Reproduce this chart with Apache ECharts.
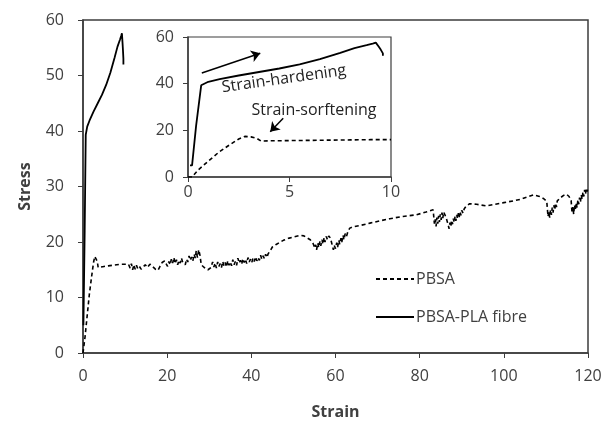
<!DOCTYPE html>
<html>
<head>
<meta charset="utf-8">
<script src="https://cdn.jsdelivr.net/npm/echarts@6/dist/echarts.min.js"></script>
<style>
  html, body { margin: 0; padding: 0; background: #fff; }
  #chart { width: 606px; height: 425px; }
</style>
</head>
<body>
<div id="chart"></div>
<script>
// stress-strain curves, [strain, stress]
const pbsa = [
    [0, 0], [0.2, 0], [0.5, 3], [1, 6.8], [1.5, 10.5], [2, 13.5], [2.5, 16.3], [2.8, 17.4],
    [3.1, 17.2], [3.4, 16.5], [3.6, 15.4], [4, 15.5], [5, 15.6], [6, 15.7], [7, 15.8], [8, 15.9],
    [9, 16], [10, 16], [10.8, 16.0],
    [11.2, 15.3], [11.5, 16.1], [11.8, 15.0], [12.1, 15.9], [12.4, 15.1], [12.7, 15.8], [13, 15.2],
    [13.4, 15.6], [13.8, 15.1], [14.3, 15.5], [14.8, 15.9], [15.3, 15.4], [15.9, 16.0], [16.5, 15.6],
    [17.2, 15.1], [17.8, 14.9], [18.3, 15.6], [18.8, 16.3], [19.4, 16.6], [19.8, 16.4], [20.1, 15.6],
    [20.4, 16.5], [20.7, 15.9], [21, 16.9], [21.3, 16.2], [21.6, 17.2], [21.9, 16.1], [22.2, 16.8],
    [22.5, 15.9], [22.8, 16.7], [23.1, 16.2], [23.4, 17.1], [23.7, 16.3], [24, 16.6], [24.3, 15.9],
    [24.6, 16.9], [24.9, 16.4], [25.2, 17.5], [25.5, 16.7], [25.8, 17.3], [26.1, 16.6], [26.4, 17.8],
    [26.7, 17.1], [26.9, 18.4], [27.2, 17.2], [27.5, 18.6], [27.8, 17.6], [28.1, 15.9], [28.8, 15.4],
    [29.7, 15.0], [30.4, 15.4], [30.8, 16.4], [31.1, 15.5], [31.4, 16.2], [31.7, 15.3], [32, 16.4],
    [32.3, 15.6], [32.6, 16.1], [32.9, 15.4], [33.2, 16.5], [33.5, 15.7], [33.8, 16.3], [34.1, 15.5],
    [34.4, 16.6], [34.7, 15.8], [35, 16.4], [35.3, 15.7], [35.6, 16.8], [35.9, 15.9], [36.2, 16.5],
    [36.5, 15.8], [36.8, 17.1], [37.1, 16.2], [37.4, 16.7], [37.7, 16.0], [38, 17.0], [38.3, 16.3],
    [38.6, 16.9], [38.9, 16.1], [39.2, 17.2], [39.5, 16.4], [39.8, 16.9], [40.1, 16.3], [40.4, 17.1],
    [40.7, 16.5], [41, 17.3], [41.3, 16.6], [41.6, 17.2], [41.9, 16.7], [42.2, 17.6], [42.5, 16.9],
    [42.8, 17.5], [43.1, 17.0], [43.4, 17.8], [43.7, 17.2], [44, 17.9], [44.4, 18.3], [45, 19.1],
    [46, 19.6], [47.6, 20.3], [49, 20.7], [50.5, 21.0], [51.5, 21.2], [52.5, 21.1], [53.1, 20.8],
    [54, 20.4], [54.7, 19.7], [55.1, 18.9], [55.3, 19.5], [55.5, 18.6], [55.8, 19.8], [56, 19.0],
    [56.3, 20.1], [56.5, 19.3], [56.8, 20.4], [57, 19.6], [57.3, 20.8], [57.5, 20.0], [57.8, 21.0],
    [58.1, 20.4], [58.4, 21.1], [58.8, 20.7], [59.2, 19.5], [59.5, 18.6], [59.7, 19.4], [60, 18.8],
    [60.3, 19.9], [60.5, 19.1], [60.8, 20.3], [61, 19.6], [61.3, 20.7], [61.5, 20.0], [61.8, 21.2],
    [62, 20.4], [62.3, 21.5], [62.6, 21.0], [63, 22.0], [63.4, 22.5], [64, 22.7], [66, 23.0],
    [68.2, 23.4], [70.5, 23.8], [72.9, 24.2], [76, 24.6], [79.2, 24.9], [81.5, 25.4], [83.2, 25.8],
    [83.5, 23.3], [83.7, 24.1], [83.9, 22.8], [84.1, 24.4], [84.3, 23.3], [84.5, 24.7], [84.7, 23.6],
    [84.9, 25.0], [85.1, 24.0], [85.3, 25.3], [85.5, 24.3], [85.7, 25.4], [86, 24.9], [86.4, 24.1],
    [86.8, 23.0], [87, 22.4], [87.2, 23.5], [87.4, 22.8], [87.6, 23.9], [87.8, 23.2], [88, 24.2],
    [88.2, 23.5], [88.4, 24.6], [88.6, 23.8], [88.8, 24.9], [89, 24.2], [89.2, 25.2], [89.4, 24.5],
    [89.6, 25.5], [89.8, 24.8], [90, 25.7], [90.3, 25.2], [90.6, 26.0], [91, 26.4], [91.9, 26.9],
    [93.5, 26.8], [95.9, 26.5], [98, 26.8], [100, 27.1], [102.2, 27.4], [104, 27.7], [105.5, 28.1],
    [107, 28.5], [108.5, 28.2], [109.5, 27.8], [110.2, 27.3], [110.5, 24.6], [110.7, 25.5],
    [110.9, 24.4], [111.1, 25.8], [111.3, 24.9], [111.5, 26.2], [111.7, 25.3], [111.9, 26.6],
    [112.1, 25.8], [112.3, 27.0], [112.5, 26.3], [112.7, 27.4], [113, 27.6], [113.5, 28.0],
    [114.2, 28.4], [114.9, 28.6], [115.5, 28.2], [116, 27.4], [116.2, 25.3], [116.4, 26.3],
    [116.6, 25.0], [116.8, 26.7], [117, 25.7], [117.2, 27.1], [117.4, 26.2], [117.6, 27.6],
    [117.8, 26.8], [118, 28.0], [118.2, 27.2], [118.4, 28.5], [118.6, 27.7], [118.8, 29.0],
    [119, 28.2], [119.2, 29.4], [119.4, 28.6], [119.6, 29.7], [119.8, 29.1], [120, 29.9]
];

const pbsaPla = [
    [0.1, 5], [0.2, 5], [0.4, 22], [0.65, 39.3], [1, 40.8], [1.56, 41.9], [2.5, 43.5], [3.5, 45],
    [4.5, 46.5], [5.5, 48.3], [6.5, 50.5], [7.5, 53.2], [8.2, 55.2], [8.8, 56.5], [9.1, 57.2],
    [9.25, 57.6], [9.4, 55.8], [9.5, 54.5], [9.6, 53], [9.6, 52]
];

// annotation arrows in inset coordinates
const hardeningArrow = [[0.68, 44.6], [3.56, 53]];
const softeningArrow = [[4.69, 25.2], [4.05, 19.4]];

const mainXTicks = { min: 0, max: 120, interval: 20 };
const mainYTicks = { min: 0, max: 60, interval: 10 };
const insetXTicks = { min: 0, max: 10, interval: 5 };
const insetYTicks = { min: 0, max: 60, interval: 20 };

const seriesNames = ["PBSA", "PBSA-PLA fibre"];

const FONT = "'Open Sans', 'Liberation Sans', sans-serif";
const TEXT = "#404040";
const AXIS = "#3c3c3c";

const axisCommon = (ticks, gridIndex, margin) => ({
    type: "value",
    gridIndex,
    min: ticks.min,
    max: ticks.max,
    interval: ticks.interval,
    axisLine: { show: true, lineStyle: { color: AXIS, width: 1.5 } },
    axisTick: { show: true, inside: false, length: 5, lineStyle: { color: AXIS } },
    axisLabel: { color: TEXT, fontFamily: FONT, fontSize: 16, margin },
    splitLine: { show: false }
});

const dashed = { color: "#000", width: 1.6, type: [4, 3] };
const solid = { color: "#000", width: 1.8, type: "solid" };

const arrowLine = pts => [{ coord: pts[0] }, { coord: pts[1] }];

const chart = echarts.init(document.getElementById("chart"), null, { renderer: "canvas" });

chart.setOption({
    animation: false,
    backgroundColor: "#fff",
    grid: [
        { left: 83, top: 20, width: 505, height: 338, show: true, borderColor: AXIS, borderWidth: 1.5, backgroundColor: "#fff" },
        { left: 188, top: 37, width: 203, height: 140, show: true, borderColor: AXIS, borderWidth: 1.2, backgroundColor: "#fff" }
    ],
    xAxis: [
        Object.assign(axisCommon(mainXTicks, 0, 15), {
            name: "Strain",
            nameLocation: "middle",
            nameGap: 51,
            nameTextStyle: { color: TEXT, fontFamily: FONT, fontSize: 16, fontWeight: "bold" }
        }),
        axisCommon(insetXTicks, 1, 7)
    ],
    yAxis: [
        Object.assign(axisCommon(mainYTicks, 0, 19), {
            name: "Stress",
            nameLocation: "middle",
            nameGap: 50,
            nameRotate: 90,
            nameTextStyle: { color: TEXT, fontFamily: FONT, fontSize: 16, fontWeight: "bold" }
        }),
        axisCommon(insetYTicks, 1, 14)
    ],
    legend: {
        data: seriesNames,
        orient: "vertical",
        left: 370,
        top: 266,
        itemWidth: 38,
        itemHeight: 14,
        itemGap: 22,
        itemStyle: { color: "rgba(0,0,0,0)", borderWidth: 0, opacity: 0 },
        textStyle: { color: TEXT, fontFamily: FONT, fontSize: 16, padding: [0, 0, 0, -3] }
    },
    series: [
        {
            name: seriesNames[0], type: "line", xAxisIndex: 0, yAxisIndex: 0,
            data: pbsa, symbol: "none", showSymbol: false, lineStyle: dashed, itemStyle: { color: "#000" }
        },
        {
            name: seriesNames[1], type: "line", xAxisIndex: 0, yAxisIndex: 0,
            data: pbsaPla, symbol: "none", showSymbol: false, lineStyle: solid, itemStyle: { color: "#000" }
        },
        {
            name: "inset-pbsa", type: "line", xAxisIndex: 1, yAxisIndex: 1,
            data: pbsa.filter(p => p[0] <= 10), symbol: "none", lineStyle: dashed, itemStyle: { color: "#000" },
            markLine: {
                silent: true, symbol: ["none", "arrow"], symbolSize: 9,
                label: { show: false },
                lineStyle: { color: "#000", width: 1.5, type: "solid" },
                data: [arrowLine(softeningArrow)]
            }
        },
        {
            name: "inset-pla", type: "line", xAxisIndex: 1, yAxisIndex: 1,
            data: pbsaPla, symbol: "none", lineStyle: solid, itemStyle: { color: "#000" },
            markLine: {
                silent: true, symbol: ["none", "arrow"], symbolSize: 9,
                label: { show: false },
                lineStyle: { color: "#000", width: 1.5, type: "solid" },
                data: [arrowLine(hardeningArrow)]
            }
        }
    ],
    graphic: [
        {
            type: "text", x: 284, y: 79, rotation: 8 * Math.PI / 180,
            style: { text: "Strain-hardening", fill: "#222", font: "16px " + FONT, textAlign: "center", textVerticalAlign: "middle" }
        },
        {
            type: "text", x: 314, y: 110,
            style: { text: "Strain-sorftening", fill: "#222", font: "16px " + FONT, textAlign: "center", textVerticalAlign: "middle" }
        }
    ]
});
</script>
</body>
</html>
